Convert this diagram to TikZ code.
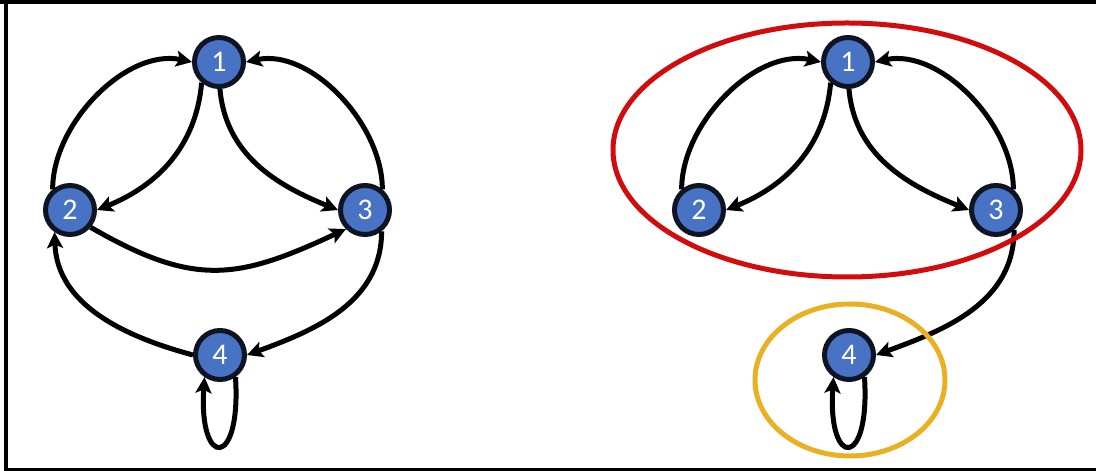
\documentclass[tikz,border=0pt]{standalone}
\usepackage{fontspec}
\setmainfont{Carlito}
\usetikzlibrary{arrows.meta}
\definecolor{nodeblue}{RGB}{72,114,196}
\definecolor{nodeborder}{RGB}{15,20,35}
\definecolor{ringred}{RGB}{210,12,12}
\definecolor{ringgold}{RGB}{234,176,36}
\tikzset{
  vertex/.style={circle, fill=nodeblue, draw=nodeborder, line width=5pt,
    minimum size=49pt, inner sep=0pt, text=white,
    font=\fontsize{30}{30}\selectfont},
  edge/.style={line width=5pt, draw=black,
    -{Stealth[length=16pt,width=16pt,inset=3.5pt]}},
  ring/.style={line width=5pt},
  frameline/.style={draw=black}
}
\begin{document}
\begin{tikzpicture}[x=1pt,y=1pt]
\useasboundingbox (0,0) rectangle (1096,471);
% frame
\draw[frameline, line width=4.5pt] (0,469) -- (1096,469);
\draw[frameline, line width=4.5pt] (6,0) -- (6,471);
\draw[frameline, line width=2.5pt] (4,1.5) -- (1096,1.5);

% left graph
\node[vertex] (a1) at (219,409) {1};
\node[vertex] (a2) at (70,261) {2};
\node[vertex] (a3) at (365,261) {3};
\node[vertex] (a4) at (220,116) {4};
\draw[edge] (a2.130) to[out=90,in=168,looseness=0.9] (a1.180);
\draw[edge] (a3.50) to[out=90,in=12,looseness=0.9] (a1.0);
\draw[edge] (a1.-130) to[out=-95,in=22] (a2.0);
\draw[edge] (a1.-88) to[out=-85,in=158] (a3.180);
\draw[edge] (a2.-40) to[out=-30,in=-155,looseness=1.2] (a3.-135);
\draw[edge] (a3.-52) to[out=-90,in=20] (a4.0);
\draw[edge] (a4.180) to[out=165,in=-88] (a2.-125);
\draw[edge] (a4.-55) .. controls +(6,-92) and +(-6,-92) .. (a4.-125);

% right graph
\node[vertex] (b1) at (848,409) {1};
\node[vertex] (b2) at (699,261) {2};
\node[vertex] (b3) at (996,261) {3};
\node[vertex] (b4) at (849,116) {4};
\draw[edge] (b2.130) to[out=90,in=168,looseness=0.9] (b1.180);
\draw[edge] (b3.50) to[out=90,in=12,looseness=0.9] (b1.0);
\draw[edge] (b1.-130) to[out=-95,in=22] (b2.0);
\draw[edge] (b1.-88) to[out=-85,in=158] (b3.180);
\draw[edge] (b3.-48) to[out=-90,in=20] (b4.0);
\draw[edge] (b4.-55) .. controls +(6,-92) and +(-6,-92) .. (b4.-125);

% groups
\draw[ring, ringred] (847,321) ellipse [x radius=234pt, y radius=127pt];
\draw[ring, ringgold] (850,91) ellipse [x radius=95pt, y radius=76pt];
\end{tikzpicture}
\end{document}
